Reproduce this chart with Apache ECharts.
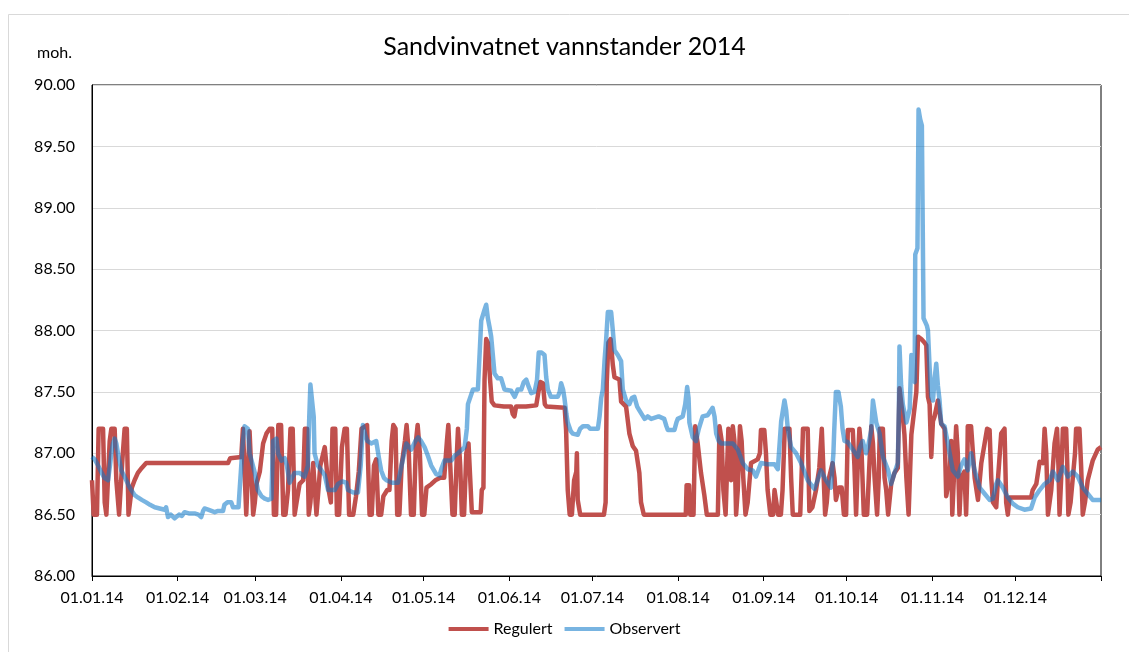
<!DOCTYPE html>
<html>
<head>
<meta charset="utf-8">
<script src="https://cdn.jsdelivr.net/npm/echarts@6/dist/echarts.min.js"></script>
<style>
html,body{margin:0;padding:0;background:#fff;}
#chart{width:1129px;height:652px;}
</style>
</head>
<body>
<div id="chart"></div>
<script>
// x positions are day-of-year (0 = 01.01.14)
const monthStarts = [0,31,59,90,120,151,181,212,243,273,304,334];
const tickLabels = ['01.01.14','01.02.14','01.03.14','01.04.14','01.05.14','01.06.14','01.07.14','01.08.14','01.09.14','01.10.14','01.11.14','01.12.14'];
const seriesNames = ['Regulert','Observert'];

const regulert = [
[0,86.78],[0.6,86.5],[1.8,86.5],[2.4,87.2],[4.0,87.2],[4.6,86.6],[5.2,86.5],[5.8,86.5],[6.4,87.1],[7.0,87.2],[8.2,87.2],[8.8,86.78],[9.8,86.5],[10.5,86.5],[11.0,86.95],[11.8,87.2],[12.6,87.2],[13.2,86.5],[13.8,86.5],[14.4,86.72],[15.4,86.78],[16.6,86.84],[18.0,86.88],[19.6,86.92],[49.2,86.92],[50.0,86.96],[54.0,86.97],
[54.6,87.2],[55.2,87.2],[55.8,86.5],[56.4,86.5],[57.0,87.18],[57.6,87.18],[58.3,86.5],[58.9,86.6],[59.5,86.75],[60.7,86.85],[61.9,87.08],[63.1,87.16],[64.3,87.2],[65.2,87.2],[65.8,86.5],[66.6,86.5],[67.4,87.23],[68.4,87.23],[69.2,86.5],[70.0,86.5],[70.9,86.7],[71.8,87.2],[72.6,87.2],[73.3,86.5],[74.0,86.6],[75.1,86.75],[76.4,86.78],[77.0,87.2],[77.8,87.2],[78.4,86.5],[79.0,86.6],[80.0,86.92],[80.6,86.92],[81.2,86.5],[81.8,86.5],[82.6,86.9],[84.2,87.05],[84.8,86.9],[85.6,86.7],[86.4,86.6],[87.0,87.2],[88.0,87.2],[88.6,86.5],[89.4,86.5],[90.4,87.05],[91.4,87.2],[92.2,87.2],[93.0,86.5],
[94.5,86.5],[95.5,86.65],[96.5,86.85],[97.5,87.2],[99.5,87.23],[100.4,86.5],[101.2,86.5],[102.0,86.9],[102.8,86.95],[103.6,86.5],[104.6,86.5],[105.4,86.65],[106.8,86.7],[107.6,86.7],[108.4,87.1],[109.0,87.23],[109.8,87.2],[110.4,86.5],[111.2,86.5],[112.0,86.9],[113.2,87.1],[113.8,87.23],[114.6,87.0],[115.4,86.5],[116.4,86.5],[117.2,87.1],[117.8,87.23],[118.6,87.0],[119.4,86.5],[120.2,86.5],[121.0,86.72],[122.8,86.75],[124.2,86.78],[126.0,86.8],[127.4,86.8],[128.4,87.1],[128.9,87.23],[129.6,86.9],[130.4,86.5],[131.2,86.5],[132.0,87.0],[132.4,87.2],[133.2,86.9],[133.8,86.5],[134.6,86.5],[135.4,87.0],[136.2,87.08],[136.8,86.8],[137.4,86.52],
[139.6,86.52],[140.6,86.52],[141.0,86.7],[141.6,86.72],[142.0,87.6],[142.6,87.93],[143.2,87.9],[144.0,87.6],[144.6,87.42],[145.6,87.39],[149,87.38],[151.6,87.38],[152.2,87.32],[152.8,87.3],[153.4,87.38],[154,87.39],[157,87.38],[160.7,87.39],[161.5,87.5],[162.2,87.58],[163.1,87.57],[163.8,87.4],[164.4,87.38],[171,87.37],[171.5,87.19],[172.1,86.7],[172.8,86.5],[173.6,86.5],[174.4,86.78],[175.2,86.85],[175.4,87.0],[175.7,86.62],[176.6,86.5],[185.2,86.5],[185.8,86.6],[186.2,87.57],[186.8,87.9],[187.6,87.93],
[188.4,87.72],[189.0,87.62],[190.8,87.6],[191.4,87.42],[193.2,87.38],[194.4,87.16],[195.6,87.06],[196.8,87.02],[198.0,86.84],[198.6,86.6],[199.6,86.5],[214.8,86.5],[215.1,86.74],[216.0,86.74],[216.4,86.5],[217.6,86.5],[218.2,87.22],[219.1,87.08],[220.3,86.84],[221.5,86.66],[222.4,86.5],[226.4,86.5],[227.0,87.22],[227.8,87.1],[228.4,86.7],[229.2,86.5],[229.8,86.5],[230.2,87.2],[230.8,87.2],[231.2,86.78],[231.8,87.22],[232.4,87.1],[233.0,86.5],
[233.6,86.7],[234.4,87.22],[235.0,87.1],[235.6,86.8],[236.4,86.5],[237.2,86.6],[238.4,86.92],[240.8,86.95],[241.6,87.0],[242.0,87.19],[243.2,87.19],[243.8,87.0],[244.4,86.7],[245.4,86.5],[246.4,86.5],[246.9,86.7],[247.6,86.7],[248.2,86.5],[249.2,86.5],[249.8,86.7],[250.6,87.2],[252.3,87.2],[252.9,86.8],[253.5,86.5],[256.2,86.5],[256.8,86.9],[257.2,87.2],[258.9,87.2],[259.5,86.53],[260.6,86.56],[261.9,86.7],[263.1,86.88],[264.0,87.2],[264.6,87.2],[265.2,86.5],[265.8,86.6],[266.4,86.78],[267.9,86.92],[268.6,86.8],[269.1,86.62],[270.2,86.72],[271.2,86.72],[272.0,86.5],[272.8,86.5],[273.4,87.19],[275.2,87.19],[275.8,86.9],[276.4,86.5],[277.0,86.9],[277.6,87.2],[278.4,87.0],[279.2,86.5],[280.4,86.5],
[281.4,87.0],[281.9,87.22],[282.5,87.08],[283.1,86.8],[284.0,86.5],[284.6,86.8],[285.0,87.2],[286.1,87.2],[286.7,86.8],[287.3,86.7],[288.0,86.5],[288.6,86.5],[289.1,86.75],[290.3,86.84],[291.5,86.88],[292.1,87.53],[292.7,87.52],[293.3,87.3],[293.9,87.15],[294.6,86.8],[295.4,86.5],[295.9,86.5],[296.4,87.15],[297.6,87.38],[298.2,87.5],[298.8,87.95],[300,87.93],[301.2,87.9],[301.8,87.88],[302.4,87.46],[303.0,87.4],[303.6,86.97],[304.2,87.26],[304.8,87.3],[306.0,87.43],[307.2,87.24],[308.4,87.2],[309.0,86.65],[309.6,86.64],[310.2,86.8],[310.8,87.1],[311.2,86.5],[311.8,86.5],[312.6,87.22],[313.2,87.0],[313.8,86.5],[314.4,86.8],[315.6,86.85],[316.2,86.5],[316.6,86.8],[316.8,87.22],[318.0,87.22],[319.3,86.8],[320.5,86.62],[321.7,86.92],[322.9,87.08],[323.8,87.2],[324.7,87.19],[325.3,86.8],[325.9,86.6],[327.1,86.56],
[327.7,86.78],[328.9,87.16],[330.1,87.2],[330.7,86.6],[331.3,86.5],[331.9,86.64],[339.7,86.64],[340.3,86.7],[341.6,86.75],[342.8,86.93],[344.0,86.92],[344.6,87.2],[345.2,87.0],[345.8,86.5],[346.4,86.6],[347.0,86.7],[348.2,87.08],[349.1,87.2],[349.6,86.9],[350.0,86.5],[350.6,86.8],[351.2,87.2],[352.4,87.2],[352.8,86.9],[353.2,86.5],[354.0,86.6],[354.8,86.8],[355.6,87.0],[356.0,87.2],[357.2,87.2],[357.8,86.9],[358.4,86.5],[359.2,86.6],[360.2,86.78],[362.0,86.94],[363.8,87.03],[365.0,87.05]
];

const observert = [
[0,86.97],[1,86.95],[2.2,86.9],[3.5,86.84],[4.5,86.8],[5.8,86.78],[6.5,86.9],[7,87.0],[7.6,87.08],[8.2,87.12],[8.8,87.08],[9.4,87.0],[10.6,86.86],[11.5,86.82],[12.4,86.78],[13.2,86.74],[14.2,86.7],[15.4,86.66],[16.6,86.64],[18,86.62],[19.6,86.6],[21,86.58],[22.7,86.56],[24.5,86.55],[26.3,86.54],[26.8,86.56],[27.5,86.48],[28.5,86.5],[29.9,86.47],[31.5,86.5],[32.5,86.49],[33.5,86.52],[35,86.51],[37.1,86.51],[38.5,86.5],[39.5,86.48],[40.2,86.53],[40.7,86.55],[42,86.54],[44.4,86.52],[45.6,86.53],[47.4,86.53],[47.9,86.58],[49,86.6],[50.4,86.6],[51,86.56],[53,86.56],[53.4,86.7],[54,86.9],[54.6,87.1],[55.2,87.22],[56.4,87.2],[57,87.0],[57.6,86.95],[58.9,86.84],[60,86.7],[61.3,86.65],[62.5,86.63],[63.7,86.62],[64.9,86.63],[65.5,87.1],[66.7,87.12],[67.3,87.0],[68.5,86.94],[69.7,86.96],[70.5,86.9],[71.5,86.76],[73.3,86.84],[75.1,86.84],[76.9,86.81],[78.1,86.9],[78.6,87.3],[79,87.56],[79.6,87.56],[80.2,87.3],[80.5,87.0],[81.7,86.9],[83,86.86],[84.2,86.82],[85.4,86.7],[87.8,86.7],[89,86.75],[90.5,86.77],[92,86.76],
[92.6,86.7],[94.5,86.68],[96.2,86.68],[97.2,86.9],[98,87.23],[98.8,87.15],[99.6,87.1],[101,87.08],[102.8,87.1],[103.8,86.96],[104.6,86.86],[105.6,86.8],[106.5,86.78],[108.5,86.76],[110.7,86.76],[112,86.9],[113.7,87.08],[115.5,87.03],[117,87.1],[118,87.13],[119,87.1],[120.3,87.05],[121.5,86.98],[122.7,86.9],[124.5,86.83],[125.7,86.82],[126.5,86.88],[127.5,86.94],[130,86.94],[131.2,86.98],[132.4,87.0],[134.8,87.05],[135.6,87.2],[136,87.4],[137.8,87.52],[139.6,87.52],
[140.8,88.08],[142,88.17],[142.6,88.21],[143.2,88.1],[143.8,88.03],[144.4,87.95],[145,87.8],[145.6,87.65],[146.8,87.61],[148,87.61],[149.2,87.52],[151.6,87.51],[152.9,87.46],[154,87.52],[155.3,87.52],[156.2,87.58],[157.1,87.6],[158,87.54],[158.9,87.49],[160.1,87.5],[161,87.6],[161.6,87.82],[162.6,87.82],[163.7,87.8],[164.3,87.62],[164.9,87.52],[166,87.46],[168.5,87.46],[169.2,87.5],[169.7,87.57],[170.4,87.52],[170.9,87.45],[171.6,87.32],[172.1,87.25],[173.2,87.18],[173.9,87.16],[175.7,87.15],[176.6,87.2],[177.6,87.22],[179.4,87.22],[180.2,87.2],[181.2,87.2],[183,87.2],[183.6,87.3],[184.2,87.45],[184.8,87.52],[185.4,87.75],[186,87.93],[186.6,88.15],[187.8,88.15],[188.4,88.0],[189,87.84],[190.2,87.8],[191.4,87.75],[192,87.52],[193.2,87.43],[194.4,87.4],[195.3,87.45],[196.2,87.46],[197.2,87.38],[198,87.35],[199.9,87.28],[201,87.3],[202.3,87.28],[205,87.3],[207,87.28],[207.8,87.22],[208.3,87.19],[210.7,87.19],[211.4,87.25],[211.9,87.28],[213.7,87.3],[214.6,87.4],[215.3,87.54],[215.8,87.45],[216.1,87.25],[217.3,87.13],[218.5,87.1],[219.5,87.2],[220.9,87.3],[222.7,87.31],[224.5,87.37],[225.2,87.3],[225.8,87.16],[226.7,87.1],[227.6,87.08],[230,87.08],[231.8,87.08],[233.6,87.03],
[235.4,86.92],[237.2,86.87],[239,86.86],[240.2,86.81],[241,86.86],[242,86.92],[244.4,86.91],[246.9,86.91],[248.1,86.87],[248.7,86.86],[249.3,87.26],[250.5,87.43],[251.1,87.35],[251.7,87.2],[252.9,87.05],[254.7,87.0],[256.5,86.92],[258.9,86.78],[261.3,86.71],[262.5,86.78],[263.7,86.86],[265.5,86.78],[267.3,86.72],[268.2,87.0],[268.5,87.19],[269.1,87.5],[270,87.5],[270.9,87.38],[271.5,87.2],[272.2,87.1],[273.4,87.09],[275.2,87.03],[277,86.97],[277.8,87.05],[278.8,87.1],[280,87.0],[280.7,87.05],
[281.9,87.19],[282.5,87.43],[283.1,87.43],[283.7,87.25],[284.9,87.16],[286.1,86.97],[288,86.86],[289.1,86.75],[290.3,86.84],[291.5,86.92],[291.9,87.4],[292.1,87.87],[292.7,87.55],[293.3,87.4],[294.6,87.25],[295.8,87.36],[296.4,87.8],[297,87.6],[297.6,87.58],[297.8,88.62],[298.6,88.67],[299.0,89.80],[299.6,89.72],[300.2,89.67],[300.8,88.1],[301.4,88.07],[302,88.04],[302.4,88.0],[303,87.7],[303.6,87.46],[304.2,87.43],[304.8,87.6],[305.4,87.73],[306,87.55],[306.6,87.43],[307.2,87.24],[308.4,87.22],[309.6,87.08],[311.4,86.86],[313.2,86.81],[314.4,86.9],[315.6,86.95],[316.8,86.86],[318,87.0],[319.3,86.86],[321.1,86.72],[322.9,86.67],[324.7,86.62],[325.9,86.63],[327.1,86.75],
[327.7,86.78],[329.5,86.72],[331.3,86.64],[333.1,86.59],[334.9,86.56],[337.3,86.54],[339.7,86.55],[341,86.64],[342.8,86.7],[344.6,86.75],[346.4,86.78],[347.6,86.85],[349.4,86.78],[351.2,86.89],[353,86.81],[354.8,86.85],[356.6,86.81],[358.4,86.72],[360.2,86.67],[362,86.62],[363.8,86.62],[365,86.62]
];

const FONT = 'Lato';
const chart = echarts.init(document.getElementById('chart'), null, {renderer: 'canvas'});
chart.setOption({
  animation: false,
  backgroundColor: '#fff',
  textStyle: {fontFamily: FONT, color: '#000'},
  title: {
    text: 'Sandvinvatnet vannstander 2014',
    left: 'center',
    top: 29,
    textStyle: {fontFamily: FONT, fontSize: 25, fontWeight: 'normal', color: '#000'}
  },
  graphic: [
    {type: 'rect', left: 6, top: 12, shape: {width: 1140, height: 660}, style: {fill: 'none', stroke: '#d9d9d9', lineWidth: 1}, silent: true, z: -10},
    {type: 'text', left: 37, top: 45, style: {text: 'moh.', fontFamily: FONT, fontSize: 16, fill: '#000'}}
  ],
  legend: {
    bottom: 10,
    left: 'center',
    icon: 'rect',
    itemWidth: 40,
    itemHeight: 4,
    itemGap: 12,
    textStyle: {fontFamily: FONT, fontSize: 16, color: '#000'},
    data: seriesNames
  },
  grid: {left: 92, right: 28, top: 85, bottom: 76, show: true, borderColor: '#000', borderWidth: 1, backgroundColor: 'transparent'},
  xAxis: {
    type: 'value',
    min: 0,
    max: 365,
    axisLine: {show: true, lineStyle: {color: '#000', width: 1}},
    axisTick: {show: true, length: 5, inside: false, customValues: monthStarts.concat([365]), lineStyle: {color: '#000'}},
    axisLabel: {
      customValues: monthStarts,
      margin: 14,
      fontSize: 16,
      fontFamily: FONT,
      color: '#000',
      formatter: function (v) { const i = monthStarts.indexOf(Math.round(v)); return i >= 0 ? tickLabels[i] : ''; }
    },
    splitLine: {show: false}
  },
  yAxis: {
    type: 'value',
    min: 86,
    max: 90,
    interval: 0.5,
    axisLine: {show: true, lineStyle: {color: '#000'}},
    axisTick: {show: false},
    axisLabel: {margin: 17, fontSize: 16, fontFamily: FONT, color: '#000', formatter: function (v) { return v.toFixed(2); }},
    splitLine: {show: true, lineStyle: {color: '#d9d9d9', width: 1}}
  },
  series: [
    {name: seriesNames[0], type: 'line', data: regulert, showSymbol: false, symbol: 'none', color: '#c0504d',
      lineStyle: {color: '#c0504d', width: 4.5, join: 'round'}, z: 2},
    {name: seriesNames[1], type: 'line', data: observert, showSymbol: false, symbol: 'none', color: 'rgba(10,118,200,0.55)',
      lineStyle: {color: 'rgba(10,118,200,0.55)', width: 4.5, join: 'round'}, z: 3}
  ]
});
</script>
</body>
</html>
